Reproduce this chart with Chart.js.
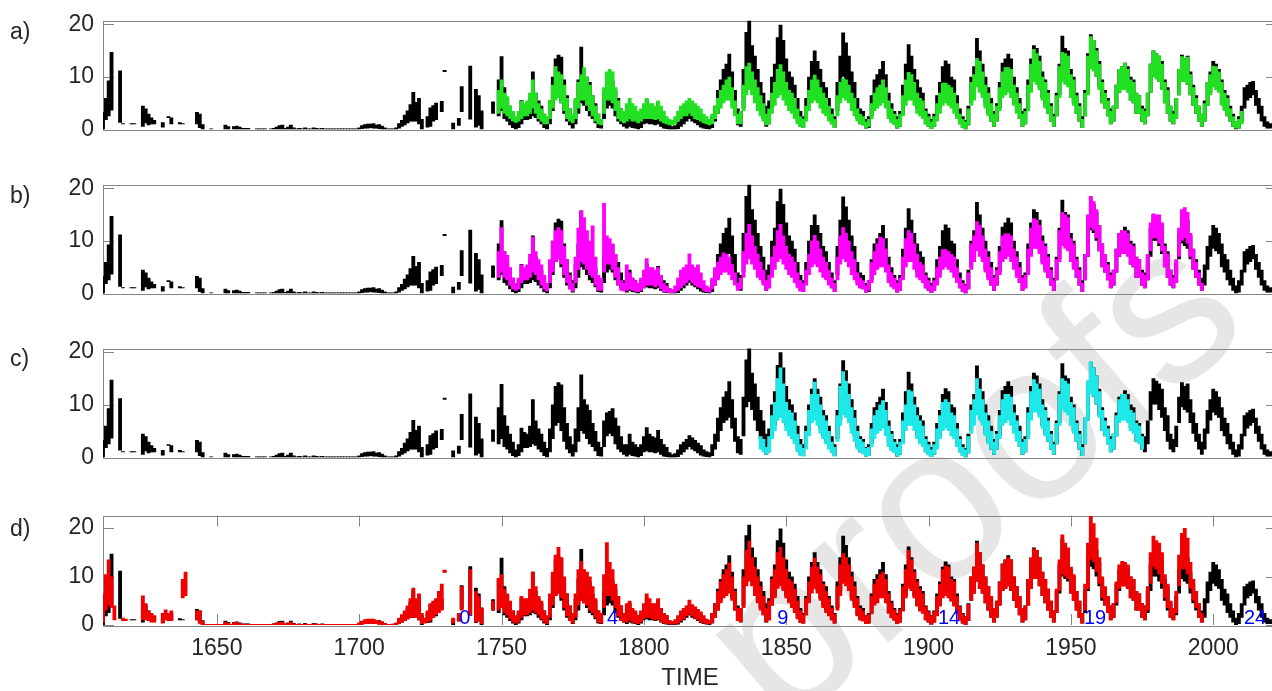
<!DOCTYPE html>
<html>
<head>
<meta charset="utf-8">
<script src="https://cdn.jsdelivr.net/npm/chart.js@4.4.0/dist/chart.umd.min.js"></script>
<style>
  html, body { margin: 0; padding: 0; background: #fff; overflow: hidden; width: 1272px; height: 691px; }
  canvas.panel { position: absolute; left: 0; z-index: 1; }
  #mark {
    position: absolute; left: 782px; top: 544px; z-index: 0;
    font: 224px "Liberation Sans", Arial, sans-serif; line-height: 1; color: #e6e6e6;
    transform-origin: 0 190px; transform: rotate(-40.7deg); white-space: nowrap;
  }
</style>
</head>
<body>
<div id="mark">proofs</div>
<canvas id="pa" class="panel" width="1290" height="150" style="top:0px"></canvas>
<canvas id="pb" class="panel" width="1290" height="150" style="top:164px"></canvas>
<canvas id="pc" class="panel" width="1290" height="150" style="top:328px"></canvas>
<canvas id="pd" class="panel" width="1290" height="196" style="top:495px"></canvas>
<script>
// axis ticks
var yTicks = [0, 10, 20];
var xTicks = [1650, 1700, 1750, 1800, 1850, 1900, 1950, 2000];

// cycle numbers written along the bottom of panel d
var cycleYears = [1737.1, 1789, 1848.8, 1907.2, 1958.5, 2014.7];
var cycleNames = ['0', '4', '9', '14', '19', '24'];

// reference record, yearly low / high, first value = 1610
var blackStart = 1610;
var blackLo = [
  0, 1.8, 2.5, 3.6, null, null, 1.3, 1.0, null, null,
  1.0, 1.0, null, null, 0.5, 1.2, 0.8, 1.0, 1.0, null,
  null, 0.4, null, 2.2, 1.0, null, null, 1.0, 1.0, null,
  null, null, null, 1.0, 0.3, 0, null, null, 0, null,
  null, null, null, 0, 0, null, 0, 0, 0, 0,
  0, 0, null, null, 0, 0, 0, 0, null, 0,
  0, 0, 0, 0, 0, 0, 0, 0, 0, 0,
  0, 0, 0, 0, 0, 0, 0, 0, 0, 0,
  0, 0, 0, 0, 0, 0, 0, 0, 0, 0,
  0, 0.1, 0.2, 0.2, 0.3, 0.2, 0.2, 0.1, 0, 0,
  0, 0, 0, 0, 0.2, 0.5, 0.8, 1.2, 1.5, 1.5,
  1.5, 1.0, 0, null, 0.4, 0.5, 1.5, 1.8, null, 3.3,
  10.9, null, null, 0, null, 0.7, 3.3, null, null, 1.9,
  null, 0.4, 0.7, 0, null, null, null, 3.0, null, 2.5,
  3.5, 2.0, 1.5, 0.8, 0.3, 0.0, 0.3, 1.0, 1.8, 1.8,
  2.0, 2.5, 2.2, 1.5, 1.0, 0.3, 0.0, 1.0, 3.5, 6.0,
  6.5, 5.0, 3.0, 1.5, 0.8, 0.2, 1.0, 3.0, 5.0, 4.5,
  3.5, 2.5, 2.0, 1.2, 0.3, 0.2, 2.0, 4.0, 4.5, 4.0,
  2.5, 1.5, 1.0, 0.5, 0.2, 0.5, 0.3, 0.2, 0.0, 0.3,
  1.0, 1.2, 1.0, 1.0, 0.8, 1.0, 0.5, 0.2, 0.1, 0.0,
  0.0, 0.0, 0.1, 0.5, 1.0, 1.5, 2.0, 1.5, 1.2, 0.8,
  0.4, 0.2, 0.1, 0.0, 0.3, 1.5, 3.0, 5.0, 6.5, 7.0,
  7.5, 5.5, 3.0, 0.8, 0.5, 4.0, 9.5, 10.5, 9.0, 7.0,
  5.0, 3.5, 2.0, 0.5, 1.0, 4.0, 6.0, 8.5, 9.0, 7.5,
  6.0, 5.0, 4.0, 3.0, 1.5, 0.5, 0.3, 2.0, 5.0, 7.5,
  8.5, 7.0, 5.5, 4.0, 3.0, 2.0, 1.0, 0.3, 3.5, 7.0,
  10.0, 9.0, 8.0, 5.5, 4.0, 2.0, 1.0, 0.8, 0.2, 0.3,
  2.5, 4.5, 5.0, 6.0, 6.5, 5.0, 2.5, 1.5, 1.0, 0.2,
  0.5, 3.0, 6.0, 8.0, 7.5, 6.0, 4.0, 3.0, 2.5, 1.0,
  0.5, 0.1, 0.5, 2.0, 4.0, 6.0, 6.5, 6.0, 5.0, 4.0,
  2.5, 1.0, 0.3, 0.0, 0.8, 5.0, 6.5, 9.0, 7.5, 6.5,
  4.5, 3.0, 1.5, 0.5, 1.5, 4.0, 7.0, 7.5, 8.0, 7.0,
  5.0, 3.5, 2.0, 0.5, 1.0, 4.0, 7.5, 9.5, 9.5, 8.0,
  6.0, 4.5, 3.0, 1.5, 0.5, 2.5, 6.5, 10.0, 9.5, 9.0,
  6.5, 5.0, 3.0, 1.5, 0.3, 2.5, 7.0, 12.0, 11.5, 10.0,
  8.0, 5.0, 4.0, 2.5, 1.0, 1.5, 4.0, 7.0, 8.0, 8.0,
  7.5, 5.5, 5.0, 3.0, 3.0, 1.5, 1.0, 2.5, 7.0, 10.0,
  10.0, 9.0, 7.5, 5.0, 3.0, 1.5, 1.0, 2.0, 6.5, 9.5,
  9.0, 8.5, 6.5, 4.5, 3.0, 1.5, 0.5, 1.5, 4.5, 7.0,
  8.5, 8.0, 7.5, 5.0, 4.0, 2.5, 1.5, 0.5, 0.0, 0.2,
  1.5, 4.0, 5.5, 6.0, 6.5, 4.5, 3.0, 1.5, 0.5, 0.2, 0.2
];
var blackHi = [
  3.3, 6.0, 9.3, 14.7, null, null, 11.2, 1.15, null, null,
  1.15, 1.15, null, null, 4.5, 4.0, 3.0, 2.3, 1.8, null,
  null, 1.4, null, 2.5, 2.3, null, null, 1.4, 1.2, null,
  null, null, null, 3.3, 3.0, 1.0, null, null, 0.1, null,
  null, null, null, 0.9, 0.6, null, 0.6, 0.7, 0.5, 0.3,
  0.3, 0.3, null, null, 0.2, 0.1, 0.2, 0.1, null, 0.2,
  0.3, 0.5, 0.8, 0.9, 0.3, 0.5, 0.9, 0.4, 0.2, 0.3,
  0.2, 0.4, 0.2, 0.1, 0.4, 0.3, 0.1, 0.3, 0.1, 0.06,
  0.06, 0.06, 0.06, 0.06, 0.06, 0.06, 0.06, 0.06, 0.06, 0.06,
  0.4, 0.8, 1.0, 1.1, 1.1, 1.2, 0.9, 1.0, 0.7, 0.4,
  0.1, 0.1, 0.2, 0.4, 1.2, 1.8, 2.8, 3.6, 4.8, 7.1,
  5.2, 6.0, 2.0, null, 2.5, 4.2, 4.6, 5.1, null, 5.4,
  11.3, null, null, 1.3, null, 2.2, 8.2, null, null, 12.1,
  null, 7.7, 6.5, 3.6, null, null, null, 5.3, null, 9.5,
  13.9, 8.0, 6.0, 4.5, 3.0, 1.5, 2.5, 5.6, 4.8, 4.5,
  6.0, 11.0, 7.0, 5.5, 4.5, 3.0, 1.8, 5.5, 10.0, 13.5,
  14.2, 13.8, 9.5, 6.5, 4.0, 2.5, 5.5, 9.5, 15.7, 11.0,
  10.0, 9.0, 6.5, 5.0, 3.0, 2.0, 7.0, 8.5, 8.8, 9.3,
  7.5, 6.0, 4.0, 2.5, 2.5, 4.5, 3.0, 2.5, 2.0, 2.5,
  4.0, 5.7, 4.5, 4.0, 3.8, 5.2, 3.5, 2.5, 2.0, 1.0,
  0.6, 0.8, 1.5, 2.5, 3.0, 3.5, 4.2, 3.8, 3.3, 2.8,
  2.3, 1.5, 1.2, 1.0, 2.5, 4.5, 7.5, 9.5, 11.5, 12.5,
  14.4, 11.0, 7.5, 4.0, 3.5, 11.5, 18.5, 20.7, 16.0, 14.0,
  11.5, 9.0, 7.0, 4.5, 5.5, 10.0, 12.5, 17.5, 19.9, 17.0,
  13.5, 11.0, 10.0, 8.5, 6.0, 3.5, 2.5, 6.0, 10.0, 13.0,
  15.0, 13.0, 11.5, 9.0, 8.0, 6.0, 4.0, 2.5, 9.0, 14.0,
  18.4, 16.5, 14.0, 11.0, 9.0, 6.0, 4.0, 3.5, 2.0, 2.5,
  6.5, 9.5, 10.5, 11.5, 13.0, 10.5, 7.0, 5.0, 3.5, 2.5,
  3.5, 8.5, 12.5, 16.2, 14.0, 11.5, 9.5, 8.0, 7.0, 4.0,
  3.0, 2.0, 3.0, 6.5, 9.0, 12.0, 13.1, 12.5, 10.0, 9.5,
  6.5, 4.0, 2.5, 1.8, 4.5, 10.0, 12.0, 17.4, 15.0, 12.5,
  10.0, 8.0, 6.0, 3.5, 5.0, 9.0, 12.7, 13.5, 14.4, 13.5,
  10.0, 8.0, 6.0, 3.5, 4.0, 9.5, 13.5, 16.0, 15.5, 14.0,
  11.0, 9.5, 7.5, 5.0, 3.0, 7.0, 12.5, 17.8, 15.5, 15.0,
  11.5, 10.0, 7.0, 5.0, 2.5, 7.5, 14.5, 18.1, 17.0, 15.5,
  13.0, 9.5, 7.5, 6.0, 4.0, 4.5, 8.5, 11.5, 12.0, 12.7,
  12.0, 10.0, 9.5, 7.0, 6.5, 4.5, 4.0, 7.0, 12.5, 15.0,
  14.5, 14.0, 13.0, 9.5, 8.0, 4.5, 3.5, 6.0, 11.5, 14.2,
  13.5, 14.0, 11.0, 8.5, 6.5, 4.5, 3.0, 5.5, 9.0, 11.0,
  13.0, 12.5, 11.5, 9.5, 7.5, 6.5, 4.5, 3.0, 1.5, 2.5,
  4.5, 8.0, 8.5, 9.0, 9.2, 7.5, 6.0, 4.5, 2.5, 1.5, 1.2
];

// panel a reconstruction, first value = 1740
var greenStart = 1740;
var greenLo = [
  null, null, null, null, null, null, null, null, null, 3.0,
  4.0, 3.0, 2.5, 2.0, 1.5, 1.3, 1.5, 2.0, 2.5, 2.5,
  3.0, 4.0, 3.0, 2.0, 1.5, 1.0, 1.0, 2.0, 4.0, 5.5,
  6.0, 5.0, 3.5, 2.0, 1.5, 1.2, 2.0, 4.0, 5.5, 5.5,
  4.5, 3.5, 2.5, 1.5, 1.0, 0.8, 3.0, 5.5, 5.5, 5.0,
  3.5, 2.0, 1.5, 1.2, 1.5, 2.0, 1.5, 1.5, 1.2, 1.5,
  2.0, 2.0, 2.0, 2.0, 1.8, 2.0, 1.5, 1.2, 1.0, 0.8,
  0.8, 1.0, 1.5, 2.0, 2.5, 2.5, 3.0, 2.5, 2.0, 1.8,
  1.5, 1.2, 1.0, 0.8, 1.0, 2.0, 3.0, 4.0, 5.0, 5.5,
  5.5, 4.0, 2.5, 1.0, 1.0, 3.5, 6.5, 7.5, 6.5, 5.0,
  3.5, 2.5, 1.5, 0.8, 1.0, 3.0, 4.5, 6.0, 6.5, 5.5,
  4.5, 3.5, 3.0, 2.0, 1.0, 0.5, 0.3, 1.5, 3.5, 5.0,
  5.5, 5.0, 4.0, 3.0, 2.5, 1.5, 1.0, 0.3, 2.5, 5.0,
  6.0, 5.5, 5.0, 3.5, 2.5, 1.5, 1.0, 0.8, 0.2, 0.5,
  2.0, 3.5, 4.0, 4.5, 5.0, 4.0, 2.0, 1.2, 0.8, 0.2,
  0.5, 2.5, 4.5, 5.5, 5.5, 4.5, 3.0, 2.5, 2.0, 1.0,
  0.5, 0.1, 0.5, 1.5, 3.0, 4.5, 5.0, 4.5, 4.0, 3.0,
  2.0, 1.0, 0.3, 0.0, 0.8, 4.5, 5.5, 8.0, 7.0, 6.0,
  4.0, 2.5, 1.5, 0.5, 1.5, 3.5, 6.0, 6.5, 7.0, 6.0,
  4.5, 3.0, 2.0, 0.5, 1.0, 3.5, 7.0, 9.0, 8.5, 7.5,
  5.5, 4.0, 3.0, 1.5, 0.5, 2.5, 6.0, 9.0, 8.5, 8.0,
  6.0, 4.5, 3.0, 1.5, 0.3, 2.5, 6.5, 11.5, 11.0, 10.0,
  7.5, 5.0, 4.0, 2.5, 1.0, 1.5, 4.0, 7.0, 7.5, 7.5,
  7.0, 5.5, 5.0, 3.0, 3.0, 1.5, 1.0, 2.5, 7.0, 10.0,
  9.5, 9.0, 7.5, 5.0, 3.0, 1.5, 1.0, 2.0, 6.5, 9.0,
  9.0, 8.5, 6.5, 4.5, 3.0, 1.5, 0.5, 1.5, 4.5, 6.5,
  8.0, 7.5, 7.0, 4.5, 3.5, 2.5, 1.5, 0.5, 0.2, 0.2,
  1.0
];
var greenHi = [
  null, null, null, null, null, null, null, null, null, 7.5,
  9.5, 7.0, 6.3, 4.5, 3.5, 2.5, 3.5, 5.5, 5.0, 5.5,
  7.0, 9.5, 7.0, 5.0, 4.0, 3.0, 2.5, 5.5, 8.5, 12.0,
  11.0, 10.5, 8.5, 6.0, 4.0, 3.0, 6.0, 9.0, 10.5, 11.8,
  10.0, 8.5, 6.5, 4.5, 3.0, 2.0, 8.0, 11.0, 11.5, 11.0,
  8.0, 5.5, 4.0, 3.5, 5.0, 6.0, 5.0, 4.5, 3.5, 4.0,
  5.0, 6.0, 5.0, 5.0, 4.5, 5.5, 4.5, 3.5, 2.5, 2.0,
  1.8, 2.5, 3.5, 4.5, 5.0, 5.5, 6.0, 5.5, 5.0, 4.5,
  4.0, 3.0, 2.5, 2.0, 3.0, 4.5, 6.0, 7.5, 8.5, 9.5,
  10.0, 8.0, 5.5, 3.0, 3.5, 8.5, 12.0, 12.7, 11.0, 9.5,
  8.0, 6.5, 5.0, 3.0, 4.0, 7.0, 9.0, 11.5, 12.4, 11.0,
  9.0, 7.5, 7.0, 6.0, 4.0, 2.5, 2.0, 4.5, 7.5, 9.5,
  10.4, 9.5, 8.0, 7.0, 6.0, 4.5, 3.0, 2.0, 6.5, 9.0,
  9.8, 9.5, 8.5, 7.0, 6.0, 4.0, 3.0, 2.5, 1.5, 2.0,
  5.0, 7.0, 8.0, 8.5, 9.5, 8.0, 5.5, 4.0, 3.0, 2.0,
  3.0, 6.5, 9.5, 10.9, 10.5, 9.0, 7.0, 6.0, 5.5, 3.5,
  2.5, 1.5, 2.5, 5.0, 7.0, 8.9, 8.9, 8.5, 8.0, 7.0,
  5.0, 3.0, 2.0, 1.5, 4.0, 9.0, 10.5, 13.6, 13.0, 11.0,
  8.5, 7.0, 5.0, 3.0, 4.5, 8.0, 11.0, 11.8, 11.8, 11.5,
  8.5, 7.0, 5.0, 3.0, 3.5, 8.5, 12.5, 15.3, 14.5, 13.0,
  10.0, 9.0, 7.0, 4.5, 2.5, 6.5, 12.0, 14.7, 14.5, 14.0,
  10.5, 9.5, 6.5, 4.5, 2.0, 7.0, 14.0, 17.7, 17.0, 15.0,
  12.5, 9.0, 7.0, 5.5, 3.5, 4.5, 8.5, 11.5, 12.0, 12.7,
  11.5, 9.5, 9.0, 7.0, 6.5, 4.0, 3.5, 7.0, 12.5, 15.0,
  14.5, 14.0, 12.5, 9.0, 7.5, 4.5, 3.0, 6.0, 11.5, 13.9,
  13.5, 13.8, 10.5, 8.0, 6.0, 4.5, 3.0, 5.0, 9.0, 10.5,
  12.1, 12.0, 11.0, 9.0, 7.0, 6.0, 4.0, 2.5, 1.5, 2.0,
  3.5
];

// panel b reconstruction, first value = 1740
var magentaStart = 1740;
var magentaLo = [
  null, null, null, null, null, null, null, null, null, 3.0,
  4.0, 3.0, 2.5, 1.5, 0.8, 0.5, 0.8, 2.0, 2.5, 2.5,
  3.0, 4.0, 3.5, 2.5, 1.5, 0.8, 0.4, 2.0, 4.0, 6.0,
  6.5, 5.5, 3.5, 2.0, 0.8, 0.4, 2.0, 4.5, 6.0, 5.5,
  4.5, 3.5, 3.0, 1.5, 0.5, 0.5, 4.0, 5.5, 5.5, 4.5,
  3.0, 1.5, 0.5, 0.4, 0.5, 0.8, 0.5, 0.4, 0.3, 0.5,
  1.0, 1.5, 1.5, 1.5, 1.2, 1.5, 0.8, 0.3, 0.2, 0.1,
  0.1, 0.2, 0.5, 1.0, 1.5, 2.0, 2.5, 2.0, 1.5, 1.2,
  1.0, 0.5, 0.3, 0.2, 0.8, 1.5, 2.5, 3.5, 4.0, 4.0,
  3.5, 2.5, 1.5, 0.5, 0.8, 3.0, 5.5, 6.5, 5.5, 4.5,
  3.0, 2.5, 1.5, 0.5, 1.0, 3.0, 4.5, 6.0, 6.5, 5.5,
  4.5, 3.5, 3.0, 2.0, 1.0, 0.4, 0.3, 1.5, 3.5, 5.0,
  5.5, 5.0, 4.0, 3.0, 2.5, 1.5, 1.0, 0.3, 2.5, 5.5,
  6.5, 6.0, 5.0, 3.5, 2.5, 1.5, 1.0, 0.8, 0.2, 0.5,
  2.0, 3.5, 4.5, 5.0, 5.0, 4.0, 2.0, 1.2, 0.8, 0.2,
  0.5, 2.5, 5.0, 6.0, 6.0, 4.5, 3.0, 2.5, 2.0, 1.0,
  0.5, 0.1, 0.5, 1.5, 3.0, 4.5, 5.0, 4.5, 4.0, 3.0,
  2.0, 1.0, 0.3, 0.0, 0.8, 4.5, 6.0, 8.0, 7.0, 6.0,
  4.0, 2.5, 1.5, 0.5, 1.5, 3.5, 6.0, 6.5, 7.0, 6.0,
  4.5, 3.0, 2.0, 0.5, 1.0, 3.5, 7.0, 8.5, 8.5, 7.5,
  5.5, 4.0, 3.0, 1.5, 0.5, 2.5, 6.0, 9.0, 8.5, 8.0,
  6.0, 4.5, 3.0, 1.5, 0.3, 2.5, 7.0, 12.5, 12.0, 10.5,
  8.0, 5.0, 4.0, 2.5, 1.0, 1.5, 4.0, 7.0, 7.5, 7.5,
  7.0, 5.5, 5.0, 3.0, 3.0, 1.5, 1.0, 2.5, 8.0, 10.5,
  10.5, 9.5, 8.0, 5.0, 3.0, 1.5, 1.0, 2.0, 7.0, 10.0,
  10.5, 9.5, 7.0, 4.5, 3.0, 1.5, 0.5
];
var magentaHi = [
  null, null, null, null, null, null, null, null, null, 8.0,
  12.6, 8.0, 7.3, 5.0, 3.0, 2.0, 3.0, 5.5, 5.0, 5.5,
  7.5, 10.8, 8.0, 6.5, 5.5, 3.5, 2.0, 6.5, 10.0, 12.0,
  12.6, 12.0, 9.0, 6.5, 3.5, 2.0, 7.0, 12.5, 15.8, 14.5,
  12.0, 10.0, 12.9, 7.0, 3.5, 3.0, 17.2, 11.0, 10.5, 9.5,
  7.5, 5.0, 2.5, 2.0, 5.5, 4.0, 3.0, 2.5, 2.0, 3.0,
  4.5, 6.7, 5.0, 5.0, 4.5, 5.0, 3.5, 2.0, 1.5, 1.0,
  0.8, 1.5, 3.0, 4.5, 5.0, 5.5, 7.6, 5.5, 5.0, 5.5,
  4.0, 2.5, 1.5, 1.2, 3.0, 5.0, 6.0, 7.0, 7.8, 7.5,
  7.0, 5.5, 4.0, 2.0, 3.0, 8.0, 11.5, 13.2, 11.0, 9.0,
  7.5, 6.0, 4.5, 2.5, 3.5, 7.0, 9.0, 12.0, 13.2, 11.0,
  9.0, 7.5, 7.0, 6.0, 4.0, 2.5, 2.0, 4.5, 7.5, 10.0,
  11.1, 10.0, 8.5, 7.0, 6.0, 4.5, 3.0, 2.0, 7.0, 11.0,
  12.6, 11.5, 10.0, 8.0, 6.5, 4.0, 3.0, 2.5, 1.5, 2.5,
  6.0, 8.0, 9.5, 10.8, 10.5, 8.5, 5.5, 4.0, 3.0, 2.0,
  3.0, 7.0, 10.5, 12.0, 11.5, 9.5, 7.5, 6.0, 5.5, 3.5,
  2.5, 1.5, 2.5, 5.0, 7.0, 8.4, 8.4, 8.0, 7.5, 7.0,
  5.0, 3.0, 2.0, 1.5, 4.0, 9.5, 11.0, 13.7, 13.0, 11.0,
  8.5, 7.0, 5.0, 3.0, 4.5, 8.0, 11.0, 11.4, 11.4, 11.0,
  8.5, 7.0, 5.0, 3.0, 3.5, 8.5, 12.5, 14.3, 14.0, 13.0,
  10.0, 9.0, 7.0, 4.5, 2.5, 6.5, 12.0, 15.5, 15.0, 14.5,
  10.5, 9.5, 6.5, 4.5, 2.0, 7.5, 15.0, 18.5, 17.5, 16.0,
  13.0, 9.5, 7.5, 5.5, 3.5, 4.5, 8.5, 11.5, 12.0, 12.0,
  11.5, 9.5, 9.0, 7.0, 6.5, 4.0, 3.5, 7.5, 13.5, 15.2,
  15.0, 15.0, 13.5, 9.0, 7.5, 4.5, 3.0, 6.5, 12.5, 16.0,
  16.4, 15.5, 11.5, 8.5, 6.0, 4.0, 2.0
];

// panel c reconstruction, first value = 1840
var cyanStart = 1840;
var cyanLo = [
  null, 1.5, 1.0, 0.5, 1.0, 3.5, 5.0, 7.0, 7.5, 6.5,
  5.0, 4.0, 3.5, 2.5, 1.0, 0.3, 0.2, 1.5, 4.0, 6.5,
  7.0, 6.0, 4.5, 3.5, 2.5, 1.5, 0.8, 0.2, 3.0, 6.0,
  8.0, 7.5, 6.5, 4.5, 3.0, 1.5, 1.0, 0.6, 0.2, 0.3,
  2.0, 3.5, 4.5, 5.0, 5.5, 4.0, 2.0, 1.2, 0.8, 0.2,
  0.5, 2.5, 5.0, 6.0, 6.0, 5.0, 3.5, 2.5, 2.0, 1.0,
  0.4, 0.1, 0.5, 1.5, 3.5, 5.0, 5.5, 5.0, 4.0, 3.5,
  2.0, 1.0, 0.3, 0.0, 0.8, 4.5, 6.0, 8.0, 7.0, 6.0,
  4.0, 2.5, 1.5, 0.5, 1.5, 3.5, 6.0, 6.5, 7.0, 6.0,
  4.5, 3.0, 2.0, 0.5, 1.0, 3.5, 7.0, 8.5, 8.5, 7.5,
  5.5, 4.0, 3.0, 1.5, 0.5, 2.5, 6.0, 9.0, 8.5, 8.0,
  6.0, 4.5, 3.0, 1.5, 0.3, 2.5, 7.0, 12.0, 11.5, 10.0,
  7.5, 5.0, 4.0, 2.5, 1.0, 1.5, 4.0, 6.5, 7.0, 7.0,
  6.5, 5.0, 4.5, 3.0, 2.5, 1.5
];
var cyanHi = [
  null, 4.0, 3.5, 2.0, 4.0, 8.0, 10.5, 15.0, 17.0, 14.0,
  10.5, 9.0, 8.5, 7.0, 4.5, 2.5, 1.8, 5.0, 9.0, 12.0,
  14.3, 12.0, 10.0, 8.0, 7.0, 5.0, 3.0, 2.0, 8.0, 13.5,
  16.3, 14.5, 12.0, 9.5, 7.5, 5.0, 3.5, 3.0, 1.8, 2.0,
  5.5, 8.0, 9.0, 10.0, 10.8, 9.0, 6.0, 4.5, 3.0, 2.0,
  3.0, 7.0, 10.0, 12.8, 12.5, 10.0, 8.0, 7.0, 6.0, 3.5,
  2.5, 1.5, 2.5, 5.5, 8.0, 10.5, 11.0, 10.5, 8.5, 8.0,
  5.5, 3.5, 2.0, 1.5, 4.0, 9.0, 11.0, 15.0, 13.0, 11.0,
  8.5, 7.0, 5.0, 3.0, 4.5, 8.0, 11.0, 12.0, 12.0, 11.5,
  8.5, 7.0, 5.0, 3.0, 3.5, 8.5, 12.5, 14.8, 14.0, 13.0,
  10.0, 9.0, 7.0, 4.5, 2.5, 6.5, 12.0, 15.0, 14.5, 14.0,
  10.5, 9.5, 6.5, 4.5, 2.0, 7.5, 14.5, 18.2, 17.0, 15.5,
  12.5, 9.0, 7.0, 5.5, 3.5, 4.5, 8.0, 11.0, 12.0, 12.0,
  11.0, 9.0, 8.5, 6.5, 6.0, 4.0
];

// panel d reconstruction, first value = 1610
var redStart = 1610;
var redLo = [
  0.5, 3.0, 4.0, 3.5, 1.0, null, null, 0.8, 0.8, null,
  null, null, null, null, 1.0, 1.0, 0.8, 0.5, 0.5, null,
  null, 0.3, 1.0, 0.8, 0.8, null, null, null, 5.5, 6.0,
  null, null, null, 1.0, 0.3, 0, 0, 0, 0, 0,
  0, 0, 0, 0, 0, 0, 0, 0, 0, 0,
  0, 0, 0, 0, 0, 0, 0, 0, 0, 0,
  0, 0, 0, 0, 0, 0, 0, 0, 0, 0,
  0, 0, 0, 0, 0, 0, 0, 0, 0, 0,
  0, 0, 0, 0, 0, 0, 0, 0, 0, 0,
  0, 0.1, 0.2, 0.2, 0.3, 0.2, 0.2, 0.1, 0, 0,
  0, 0, 0, 0, 0.2, 0.5, 0.8, 1.2, 1.5, 1.5,
  1.5, 1.0, 0.2, 0.3, 0.5, 0.8, 1.5, 2.0, 2.5, 3.0,
  10.8, null, null, 0.3, null, 0.8, 3.0, null, null, 2.0,
  null, 0.5, 0.8, 0.2, null, null, null, 3.0, null, 3.0,
  3.5, 2.5, 2.0, 1.2, 0.5, 0.3, 0.5, 1.5, 2.0, 2.0,
  2.5, 3.0, 2.5, 2.0, 1.2, 0.5, 0.2, 1.5, 4.0, 6.0,
  6.5, 5.5, 3.5, 1.8, 0.8, 0.3, 1.5, 4.0, 5.0, 4.5,
  4.0, 3.0, 2.5, 1.5, 0.5, 0.3, 3.5, 6.0, 6.0, 5.0,
  3.5, 1.8, 0.8, 0.5, 0.5, 1.0, 0.5, 0.3, 0.2, 0.5,
  1.2, 1.5, 1.5, 1.2, 1.0, 1.2, 0.6, 0.3, 0.2, 0.1,
  0.1, 0.1, 0.3, 0.8, 1.2, 1.8, 2.2, 1.8, 1.3, 1.0,
  0.5, 0.3, 0.2, 0.1, 0.4, 1.5, 3.0, 4.5, 5.5, 6.0,
  6.5, 5.0, 3.0, 0.8, 0.6, 3.5, 8.0, 9.0, 8.0, 6.0,
  4.5, 3.0, 2.0, 0.5, 1.0, 4.0, 5.5, 7.5, 8.0, 7.0,
  5.5, 4.5, 3.5, 2.5, 1.2, 0.4, 0.3, 2.0, 4.5, 6.5,
  7.5, 6.5, 5.0, 3.5, 2.5, 1.8, 1.0, 0.3, 3.0, 6.0,
  8.5, 8.0, 7.0, 5.0, 3.5, 1.8, 1.0, 0.7, 0.2, 0.3,
  2.2, 4.0, 4.5, 5.5, 5.5, 4.5, 2.3, 1.4, 0.9, 0.2,
  0.5, 2.8, 5.5, 7.5, 7.0, 5.5, 3.8, 2.8, 2.3, 1.0,
  0.5, 0.1, 0.5, 1.8, 3.8, 5.5, 6.0, 5.5, 4.8, 3.8,
  2.3, 1.0, 0.3, 0.0, 0.8, 5.0, 6.5, 9.0, 7.5, 6.5,
  4.5, 3.0, 1.5, 0.5, 1.5, 4.0, 7.0, 7.5, 8.0, 7.0,
  5.0, 3.5, 2.0, 0.5, 1.0, 4.0, 7.5, 9.5, 9.5, 8.0,
  6.0, 4.5, 3.0, 1.5, 0.5, 2.5, 7.0, 10.5, 10.0, 9.5,
  6.5, 5.0, 3.0, 1.5, 0.3, 3.0, 7.5, 13.5, 13.0, 11.0,
  8.5, 5.5, 4.0, 2.5, 1.0, 1.5, 4.5, 7.5, 8.0, 8.0,
  7.5, 5.5, 5.0, 3.0, 3.0, 1.5, 1.0, 3.0, 8.5, 12.0,
  11.5, 10.5, 8.5, 5.5, 3.5, 1.5, 1.0, 2.5, 8.0, 11.5,
  11.5, 10.5, 7.5, 5.0, 3.5, 1.5, 0.5
];
var redHi = [
  6.5, 10.5, 13.5, 10.0, 4.0, null, null, 1.5, 1.3, null,
  null, null, null, null, 6.1, 4.5, 3.0, 2.5, 2.0, null,
  null, 2.5, 3.2, 2.5, 3.0, null, null, null, 9.5, 11.0,
  null, null, null, 3.0, 3.0, 0.8, 0.1, 0.1, 0.1, 0.1,
  0.1, 0.1, 0.1, 0.6, 0.5, 0.1, 0.5, 0.6, 0.4, 0.2,
  0.2, 0.2, 0.1, 0.1, 0.1, 0.1, 0.1, 0.1, 0.1, 0.2,
  0.3, 0.4, 0.6, 0.7, 0.3, 0.4, 0.7, 0.3, 0.2, 0.2,
  0.2, 0.3, 0.2, 0.1, 0.3, 0.2, 0.1, 0.1, 0.1, 0.1,
  0.1, 0.1, 0.1, 0.1, 0.1, 0.1, 0.1, 0.1, 0.1, 0.1,
  0.5, 0.9, 1.2, 1.3, 1.3, 1.3, 1.0, 1.0, 0.7, 0.4,
  0.2, 0.2, 0.3, 0.5, 1.5, 2.2, 3.0, 4.0, 5.5, 7.7,
  5.5, 6.5, 2.5, 1.5, 3.0, 4.5, 5.0, 5.5, 7.0, 8.5,
  11.4, null, null, 1.5, null, 2.5, 8.0, null, null, 11.5,
  null, 7.0, 6.0, 3.5, null, null, null, 5.0, null, 9.7,
  10.5, 7.5, 6.5, 5.0, 3.0, 2.0, 3.0, 6.0, 5.5, 5.5,
  7.5, 11.0, 8.0, 6.0, 5.0, 3.0, 2.0, 6.5, 11.0, 14.5,
  16.1, 14.0, 10.0, 6.5, 4.0, 2.5, 6.5, 11.5, 13.2, 11.5,
  11.0, 10.0, 8.0, 5.5, 3.0, 2.5, 10.5, 17.1, 13.0, 11.5,
  8.5, 6.0, 4.0, 2.5, 4.5, 5.0, 3.5, 3.0, 2.0, 3.0,
  4.5, 6.5, 5.5, 4.5, 4.5, 5.5, 3.5, 2.5, 2.0, 1.0,
  0.8, 1.2, 2.0, 3.0, 3.5, 4.0, 5.2, 4.3, 3.8, 3.3,
  2.8, 2.0, 1.3, 1.0, 2.5, 4.5, 7.0, 9.0, 10.5, 11.5,
  12.9, 10.0, 7.0, 3.5, 3.5, 10.0, 15.5, 17.4, 14.0, 12.0,
  10.0, 8.0, 6.0, 3.5, 5.0, 9.5, 11.5, 15.0, 16.1, 14.0,
  11.5, 9.5, 9.0, 7.5, 5.0, 3.0, 2.2, 5.5, 9.0, 12.0,
  13.9, 12.0, 10.5, 8.5, 7.0, 5.5, 3.5, 2.2, 8.0, 12.5,
  14.8, 14.0, 12.5, 10.0, 8.0, 5.5, 3.5, 3.0, 1.8, 2.2,
  6.0, 8.5, 9.5, 10.5, 11.0, 9.5, 6.5, 4.5, 3.2, 2.2,
  3.2, 8.0, 11.5, 15.5, 13.5, 11.0, 9.0, 7.5, 6.5, 3.8,
  2.8, 1.8, 2.8, 6.0, 8.5, 11.5, 12.3, 12.0, 9.5, 9.0,
  6.0, 3.8, 2.3, 1.7, 4.3, 10.0, 12.0, 17.0, 15.0, 12.5,
  10.0, 8.0, 6.0, 3.5, 5.0, 9.0, 12.6, 13.5, 14.0, 13.5,
  10.0, 8.0, 6.0, 3.5, 4.0, 9.5, 14.0, 15.8, 15.5, 14.0,
  11.0, 9.5, 7.5, 5.0, 3.0, 7.5, 13.5, 18.7, 17.0, 16.0,
  12.0, 10.5, 7.0, 5.0, 2.5, 8.5, 17.0, 22.5, 21.0, 18.0,
  14.0, 10.0, 8.0, 6.0, 4.0, 4.5, 9.0, 12.5, 13.2, 13.0,
  12.5, 10.0, 9.5, 7.0, 6.5, 4.5, 4.0, 8.0, 15.0, 18.4,
  17.5, 17.0, 15.0, 10.5, 8.5, 5.0, 3.5, 7.0, 14.5, 19.0,
  20.0, 18.0, 13.0, 9.5, 7.0, 4.5, 2.5
];

var FONT = '"Liberation Sans", Arial, Helvetica, sans-serif';
var INK = '#262626';
var AXIS = '#858585';

// turn a yearly low/high pair of arrays into floating bars
function yearBars(start, lo, hi) {
  var out = [];
  for (var i = 0; i < hi.length; i++) {
    if (hi[i] === null || lo[i] === null) continue;
    out.push({ x: start + i, y: [lo[i], hi[i]] });
  }
  return out;
}

// box, inward ticks, panel letter and cycle numbers
var framePlugin = {
  id: 'frame',
  beforeDatasetsDraw: function (chart, args, opts) {
    var ctx = chart.ctx, a = chart.chartArea;
    var x = chart.scales.x, y = chart.scales.y;
    ctx.save();
    ctx.strokeStyle = AXIS;
    ctx.lineWidth = 1;
    ctx.strokeRect(Math.round(a.left) + 0.5, Math.round(a.top) + 0.5,
                   Math.round(a.width), Math.round(a.height));
    ctx.beginPath();
    yTicks.forEach(function (v) {
      var py = Math.round(y.getPixelForValue(v)) + 0.5;
      ctx.moveTo(a.left, py); ctx.lineTo(a.left + 11, py);
      ctx.moveTo(a.right, py); ctx.lineTo(a.right - 11, py);
    });
    if (opts.xTicks) {
      xTicks.forEach(function (v) {
        var px = Math.round(x.getPixelForValue(v)) + 0.5;
        ctx.moveTo(px, a.top); ctx.lineTo(px, a.top + 11);
        ctx.moveTo(px, a.bottom); ctx.lineTo(px, a.bottom - 11);
      });
    }
    ctx.stroke();
    ctx.restore();
  },
  afterDraw: function (chart, args, opts) {
    var ctx = chart.ctx;
    var x = chart.scales.x, y = chart.scales.y;
    ctx.save();
    ctx.fillStyle = INK;
    ctx.font = '23px ' + FONT;
    ctx.textBaseline = 'middle';
    ctx.textAlign = 'left';
    ctx.fillText(opts.letter, 10, opts.letterY);
    if (opts.cycles) {
      ctx.fillStyle = '#0000ff';
      ctx.font = '20px ' + FONT;
      ctx.textAlign = 'center';
      ctx.textBaseline = 'alphabetic';
      cycleYears.forEach(function (yr, i) {
        ctx.fillText(cycleNames[i], x.getPixelForValue(yr), y.getPixelForValue(0.3));
      });
    }
    ctx.restore();
  }
};

var blackBars = yearBars(blackStart, blackLo, blackHi);

// overlapping bars so neighbouring years join without seams
function barSet(data, color, order) {
  return {
    data: data, backgroundColor: color, borderWidth: 0,
    grouped: false, barPercentage: 1.35, categoryPercentage: 1,
    minBarLength: 1, order: order
  };
}

function panel(id, bars, color, o) {
  return new Chart(document.getElementById(id), {
    type: 'bar',
    data: { datasets: [barSet(bars, color, 0), barSet(blackBars, '#000000', 1)] },
    options: {
      responsive: false,
      animation: false,
      layout: { padding: { top: o.top, bottom: o.bottom, left: 0, right: 13 } },
      plugins: {
        legend: { display: false },
        tooltip: { enabled: false },
        frame: { letter: o.letter, letterY: o.letterY, xTicks: o.showX, cycles: o.showX }
      },
      scales: {
        x: {
          type: 'linear', min: 1610, max: 2022.4, offset: false,
          display: o.showX,
          grid: { display: false, drawTicks: false },
          border: { display: false },
          afterBuildTicks: function (s) { s.ticks = xTicks.map(function (v) { return { value: v }; }); },
          afterFit: function (s) { if (o.showX) s.height = 66; },
          ticks: {
            autoSkip: false, maxRotation: 0, padding: 12, color: INK,
            font: { size: 23, family: FONT, lineHeight: 1 },
            callback: function (v) { return String(v); }
          },
          title: {
            display: o.showX, text: 'TIME', color: INK,
            font: { size: 24, family: FONT, lineHeight: 1 },
            padding: { top: 0, bottom: 1 }
          }
        },
        y: {
          min: 0, max: o.ymax,
          grid: { display: false, drawTicks: false },
          border: { display: false },
          afterBuildTicks: function (s) { s.ticks = yTicks.map(function (v) { return { value: v }; }); },
          afterFit: function (s) { s.width = 103; },
          ticks: {
            padding: 9, color: INK,
            font: { size: 23, family: FONT, lineHeight: 1 },
            callback: function (v) { return String(v); }
          }
        }
      }
    },
    plugins: [framePlugin]
  });
}

panel('pa', yearBars(greenStart, greenLo, greenHi), '#22e022',
      { top: 16, bottom: 16, ymax: 20.7, letter: 'a)', letterY: 33, showX: false });
panel('pb', yearBars(magentaStart, magentaLo, magentaHi), '#ff00ff',
      { top: 16, bottom: 16.3, ymax: 20.7, letter: 'b)', letterY: 33, showX: false });
panel('pc', yearBars(cyanStart, cyanLo, cyanHi), '#1ee8e8',
      { top: 16.3, bottom: 17, ymax: 20.6, letter: 'c)', letterY: 32, showX: false });
panel('pd', yearBars(redStart, redLo, redHi), '#f00000',
      { top: 13.3, bottom: 0, ymax: 22.6, letter: 'd)', letterY: 35, showX: true });
</script>
</body>
</html>
